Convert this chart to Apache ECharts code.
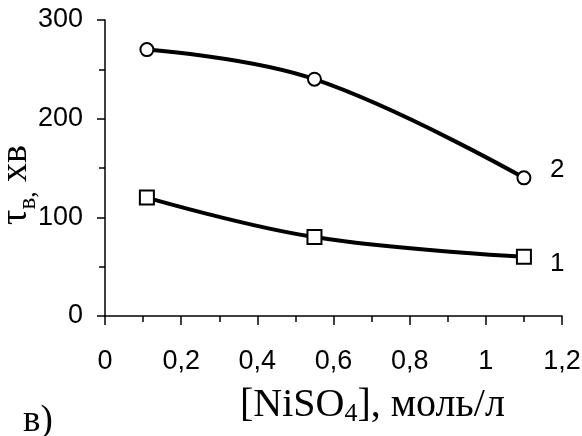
<!DOCTYPE html>
<html><head><meta charset="utf-8">
<script src="https://cdn.jsdelivr.net/npm/echarts@6/dist/echarts.min.js"></script>
<style>html,body{margin:0;padding:0;background:#fff}#c{width:582px;height:436px}</style>
</head><body><div id="c"></div>
<script>
const xValues = [0.11, 0.55, 1.1];
const series1 = [120, 80, 60];
const series2 = [270, 240, 140];
const seriesNames = ['1', '2'];
const xTicks = [0, 0.2, 0.4, 0.6, 0.8, 1, 1.2];
const yTicks = [0, 100, 200, 300];

const chart = echarts.init(document.getElementById('c'));
const sans = "'Liberation Sans', Arial, sans-serif";
const serif = "'Liberation Serif', 'Times New Roman', serif";
function mk(vals) { return xValues.map((x, i) => [x, vals[i]]); }
function ser(name, vals, symbol, size, off) {
  return {
    name, type: 'line', data: mk(vals), smooth: 0.4,
    symbol, symbolSize: size, showAllSymbol: true,
    lineStyle: { color: '#000', width: 4 },
    itemStyle: { color: '#fff', borderColor: '#000', borderWidth: 2 },
    endLabel: { show: true, formatter: name, distance: 26, offset: off,
      fontFamily: sans, fontSize: 26, color: '#000' },
    z: 3
  };
}
chart.setOption({
  animation: false,
  backgroundColor: '#fff',
  grid: { left: 105, right: 20, top: 20, bottom: 120, containLabel: false, outerBoundsMode: 'none' },
  title: [
    { text: '{a|[NiSO}{s|4}{a|], моль/л}', left: 235, top: 380,
      textStyle: { fontWeight: 'normal', rich: {
        a: { fontFamily: serif, fontSize: 40, fontWeight: 'normal', color: '#000' },
        s: { fontFamily: serif, fontSize: 26, fontWeight: 'normal', color: '#000', verticalAlign: 'bottom', padding: [0, 0, -2, 0] }
      } } },
    { text: 'в)', left: 18, top: 398,
      textStyle: { fontFamily: serif, fontSize: 37, fontWeight: 'normal', color: '#000' } }
  ],
  xAxis: {
    type: 'value', min: 0, max: 1.2, interval: 0.2,
    axisLine: { onZero: false, lineStyle: { color: '#000', width: 1.5 } },
    axisTick: { show: true, length: 9, lineStyle: { color: '#000', width: 1.5 } },
    minorTick: { show: true, splitNumber: 2, length: 6, lineStyle: { color: '#000', width: 1.5 } },
    splitLine: { show: false },
    axisLabel: { margin: 32, fontFamily: sans, fontSize: 27, color: '#000',
      formatter: v => String(+v.toFixed(1)).replace('.', ',') }
  },
  yAxis: {
    type: 'value', min: 0, max: 300, interval: 100,
    name: '{t|τ}{s|в,}{t| хв}', nameLocation: 'middle', nameGap: 70, nameRotate: 90,
    nameMoveOverlap: false,
    nameTextStyle: { padding: [0, 34, 0, 0], rich: {
      t: { fontFamily: serif, fontSize: 38, color: '#000' },
      s: { fontFamily: serif, fontSize: 25, color: '#000', verticalAlign: 'bottom', padding: [0, 0, -6, 0] }
    } },
    axisLine: { show: true, lineStyle: { color: '#000', width: 1.5 } },
    axisTick: { show: true, length: 8, lineStyle: { color: '#000', width: 1.5 } },
    minorTick: { show: true, splitNumber: 2, length: 6, lineStyle: { color: '#000', width: 1.5 } },
    splitLine: { show: false },
    axisLabel: { margin: 22, fontFamily: sans, fontSize: 27, color: '#000' }
  },
  series: [ser(seriesNames[0], series1, 'rect', 14, [0, 7]), ser(seriesNames[1], series2, 'circle', 13, [0, -8])]
});
</script></body></html>
